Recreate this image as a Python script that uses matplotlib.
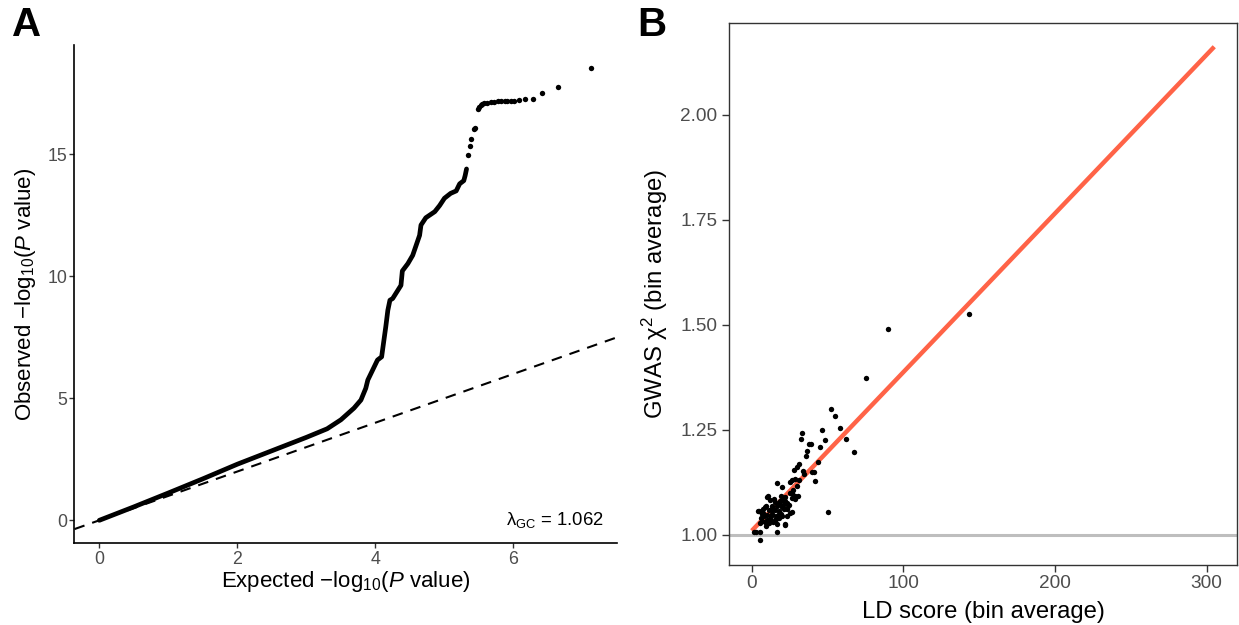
import numpy as np
import matplotlib
matplotlib.use("Agg")
import matplotlib.pyplot as plt

plt.rcParams['font.family'] = ['Liberation Sans', 'DejaVu Sans']
plt.rcParams['mathtext.fontset'] = 'custom'
plt.rcParams['mathtext.rm'] = 'Liberation Sans'
plt.rcParams['mathtext.it'] = 'Liberation Sans:italic'
plt.rcParams['mathtext.sf'] = 'Liberation Sans'

# ---- panel A: QQ plot (expected vs observed -log10 P) ----
# dense part of the curve
qq_expected = [0.0, 0.5, 1.0, 1.5, 2.0, 2.5, 3.0, 3.3, 3.5, 3.69, 3.79, 3.86,
               3.89, 3.96, 4.03, 4.09, 4.12, 4.15, 4.18, 4.21, 4.25, 4.37, 4.39,
               4.47, 4.54, 4.59, 4.64, 4.66, 4.73, 4.86, 4.93, 5.0, 5.09, 5.17,
               5.22, 5.28, 5.30, 5.32]
qq_observed = [0.0, 0.55, 1.12, 1.7, 2.3, 2.85, 3.4, 3.75, 4.12, 4.6, 4.93, 5.41,
               5.75, 6.16, 6.57, 6.70, 7.32, 7.93, 8.61, 9.02, 9.09, 9.63, 10.22,
               10.52, 10.86, 11.27, 11.68, 12.1, 12.4, 12.65, 12.9, 13.2, 13.4, 13.5,
               13.79, 13.92, 14.13, 14.4]
# sparse top tail (individual points)
tail_expected = [5.34, 5.37, 5.39, 5.43, 5.44, 5.48, 5.50, 5.53, 5.55, 5.58, 5.62,
                 5.67, 5.72, 5.77, 5.82, 5.87, 5.91, 5.96, 6.01, 6.08, 6.16, 6.28,
                 6.42, 6.64, 7.12]
tail_observed = [14.96, 15.36, 15.61, 16.05, 16.07, 16.85, 16.94, 17.01, 17.05, 17.09,
                 17.12, 17.15, 17.16, 17.17, 17.18, 17.18, 17.19, 17.19, 17.2, 17.22,
                 17.25, 17.28, 17.53, 17.77, 18.55]
lambda_gc = 1.062

# ---- panel B: LD score regression ----
ld_score = [1.4, 3.0, 5.3, 5.5, 4.2, 4.7, 5.3, 6.2, 6.6, 6.9, 7.3, 8.0, 9.0, 9.1,
            9.0, 9.1, 10.1, 10.1, 11.0, 11.3, 11.3, 12.1, 12.1, 12.4, 13.4, 13.4,
            13.5, 14.5, 15.2, 15.5, 15.5, 15.7, 16.3, 16.6, 16.8, 16.8, 16.9, 17.8,
            17.9, 18.1, 18.9, 20.1, 20.1, 20.2, 20.7, 21.1, 22.0, 22.0, 22.2, 22.2,
            23.2, 23.4, 23.5, 23.5, 25.1, 25.3, 25.5, 26.2, 26.2, 26.6, 26.6, 27.7,
            28.5, 28.8, 28.8, 29.5, 29.9, 30.5, 31.0, 31.0, 32.3, 33.0, 33.9, 34.7,
            35.9, 36.5, 37.6, 39.1, 39.8, 40.9, 42.0, 43.5, 44.8, 46.4, 48.1, 50.1,
            52.3, 55.1, 58.0, 62.2, 67.2, 75.2, 90.0, 143.0, 7.5, 10.3, 13.6, 19.0,
            14.0, 18.0, 21.0, 24.5, 27.0, 19.5]
chi2_mean = [1.006, 1.007, 1.006, 0.986, 1.056, 1.055, 1.028, 1.040, 1.048, 1.032,
             1.062, 1.044, 1.065, 1.068, 1.030, 1.020, 1.046, 1.089, 1.092, 1.059,
             1.028, 1.082, 1.037, 1.044, 1.068, 1.048, 1.064, 1.084, 1.059, 1.078,
             1.035, 1.036, 1.045, 1.122, 1.068, 1.024, 1.006, 1.048, 1.056, 1.072,
             1.080, 1.113, 1.044, 1.066, 1.082, 1.072, 1.089, 1.022, 1.081, 1.024,
             1.044, 1.064, 1.076, 1.060, 1.125, 1.100, 1.052, 1.086, 1.054, 1.100,
             1.129, 1.153, 1.093, 1.132, 1.085, 1.160, 1.116, 1.093, 1.168, 1.129,
             1.228, 1.241, 1.152, 1.144, 1.188, 1.198, 1.216, 1.216, 1.150, 1.150,
             1.128, 1.172, 1.208, 1.248, 1.225, 1.054, 1.298, 1.283, 1.253, 1.228,
             1.196, 1.373, 1.489, 1.526, 1.051, 1.035, 1.058, 1.050, 1.030, 1.040,
             1.060, 1.070, 1.105, 1.092]
fit_x = [0, 305]
fit_y = [1.009, 2.162]

fig = plt.figure(figsize=(12.39, 6.25), dpi=100)
fig.patch.set_facecolor("white")

# ---------- A ----------
axA = fig.add_axes([0.0601, 0.1312, 0.4379, 0.7968])
axA.set_xlim(-0.36, 7.5)
axA.set_ylim(-0.93, 19.48)
lim = np.array(axA.get_xlim())
axA.plot(lim, lim, ls=(0, (5.1, 3.9)), color="black", lw=1.5, zorder=2)
axA.plot(qq_expected, qq_observed, color="black", lw=3.4,
         solid_capstyle="round", solid_joinstyle="round", zorder=3)
axA.scatter(tail_expected, tail_observed, s=15, color="black", lw=0, zorder=3)
axA.text(7.31, 0.0, "λ$_{\\mathrm{GC}}$ = %.3f" % lambda_gc, ha="right", va="center",
         fontsize=13.3)
for s in ["top", "right"]:
    axA.spines[s].set_visible(False)
for s in ["left", "bottom"]:
    axA.spines[s].set_linewidth(1.2)
    axA.spines[s].set_color("black")
axA.set_xticks([0, 2, 4, 6])
axA.set_yticks([0, 5, 10, 15])
axA.tick_params(labelsize=12.8, labelcolor="#4D4D4D", color="#333333",
                length=3.5, width=1.0)
axA.tick_params(axis="x", pad=2.5)
axA.tick_params(axis="y", pad=1.6)
axA.set_xlabel(r"Expected $-\mathrm{log}_{10}(P$ value)", fontsize=16)
axA.set_ylabel(r"Observed $-\mathrm{log}_{10}(P$ value)", fontsize=16)
axA.xaxis.set_label_coords(0.5, -0.052)
axA.yaxis.set_label_coords(-0.068, 0.5)

# ---------- B ----------
axB = fig.add_axes([0.5881, 0.0957, 0.4106, 0.8678])
axB.set_xlim(-15.25, 320.25)
axB.set_ylim(0.927, 2.219)
axB.axhline(1.0, color="#BEBEBE", lw=2.2, zorder=1)
axB.plot(fit_x, fit_y, color="tomato", lw=3.2, solid_capstyle="butt", zorder=2)
axB.scatter(ld_score, chi2_mean, s=15, color="black", lw=0, zorder=3)
for s in axB.spines.values():
    s.set_color("#333333")
    s.set_linewidth(1.0)
axB.set_xticks([0, 100, 200, 300])
axB.set_yticks([1.0, 1.25, 1.5, 1.75, 2.0])
axB.set_yticklabels(["1.00", "1.25", "1.50", "1.75", "2.00"])
axB.tick_params(labelsize=13.7, labelcolor="#4D4D4D", color="#333333",
                length=5.0, width=1.0)
axB.tick_params(axis="x", pad=1.8)
axB.tick_params(axis="y", pad=3.0)
axB.set_xlabel("LD score (bin average)", fontsize=17.2)
axB.set_ylabel("GWAS χ$^{2}$ (bin average)", fontsize=17.2)
axB.xaxis.set_label_coords(0.5, -0.0669)
axB.yaxis.set_label_coords(-0.116, 0.5)

fig.text(12 / 1239, 1 - 6 / 625, "A", fontsize=29, fontweight="bold", va="top", ha="left")
fig.text(637 / 1239, 1 - 6 / 625, "B", fontsize=29, fontweight="bold", va="top", ha="left")

plt.savefig("out.png", dpi=100, facecolor="white")
